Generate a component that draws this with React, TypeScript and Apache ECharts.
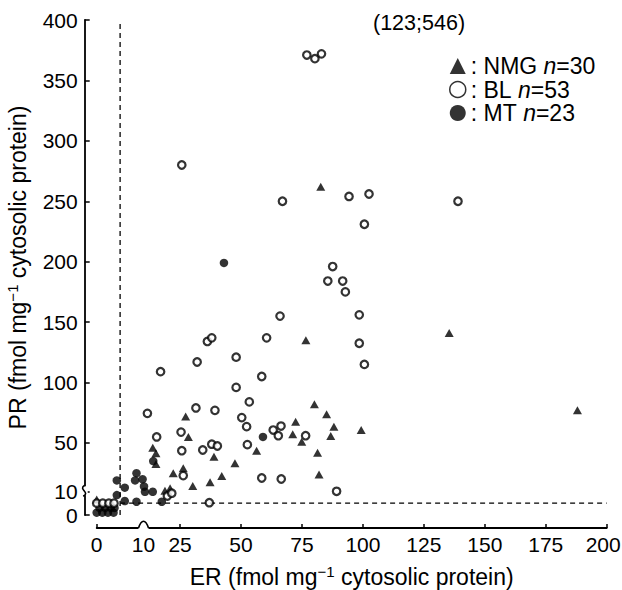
import React, { useEffect, useRef } from 'react';
import * as echarts from 'echarts';

// Broken-axis transform: 0–10 is expanded, above 10 is linear
const BREAK = 10;
const K_X = 1.92;
const K_Y = 1.96;
const tx = (v: number) => (v <= BREAK ? v * K_X : v - BREAK + BREAK * K_X);
const ty = (v: number) => (v <= BREAK ? v * K_Y : v - BREAK + BREAK * K_Y);
const itx = (t: number) => (t <= BREAK * K_X + 1e-9 ? t / K_X : t - BREAK * K_X + BREAK);
const ity = (t: number) => (t <= BREAK * K_Y + 1e-9 ? t / K_Y : t - BREAK * K_Y + BREAK);

const xTickValues = [0, 25, 50, 75, 100, 125, 150, 175, 200];
const xLabelValues = [0, 10, 25, 50, 75, 100, 125, 150, 175, 200];
const yTickValues = [0, 10, 50, 100, 150, 200, 250, 300, 350, 400];
const yLabelValues = [0, 10, 50, 100, 150, 200, 250, 300, 350, 400];

const cutoffER = 5;
const cutoffPR = 5;
const outlierLabel = '(123;546)';

// [ER, PR]
const nmgPoints = [
  [27.3, 72], [28.4, 55], [13.8, 46], [15.1, 41.5], [15.1, 32.6], [26.3, 29],
  [22.2, 25], [38.9, 38.6], [47.5, 33.2], [56.4, 43.6], [42.1, 22.7], [37.3, 17.5],
  [30.2, 14.4], [18.8, 10.5], [20.9, 12.5], [80.1, 82], [85.1, 73.7], [72.4, 67.6],
  [88.1, 63.5], [99.3, 60.7], [71.2, 57.2], [86.8, 55.8], [74.9, 51], [81.4, 42],
  [82, 24], [76.6, 135], [82.7, 262], [135.4, 141], [188, 77], [0, 6.5],
];

const blPoints = [
  [36.2, 134], [38, 137], [60.5, 137], [48, 121], [32, 117], [17, 109],
  [58.5, 105], [48, 96], [53.4, 84], [11.6, 74.5], [31.5, 79], [39.3, 77],
  [50.3, 71], [52.3, 63.5], [63.2, 60.7], [66.4, 64], [65.3, 56], [15.4, 55],
  [25.4, 59], [25.7, 43.6], [34.3, 44.2], [38, 49], [40.3, 47.5], [52.6, 48.6],
  [26.3, 23], [58.5, 21], [66.5, 20.2], [37, 5.2], [19.8, 8], [21.6, 9.2],
  [76.5, 56], [89.2, 10], [67, 250], [94.3, 254], [102.5, 256], [139, 250],
  [100.6, 231], [87.6, 196], [85.6, 184], [91.7, 184], [92.8, 175], [66, 155],
  [98.5, 156], [98.5, 132.5], [100.6, 115], [25.7, 280], [77, 371], [80.3, 368],
  [83, 372], [0, 5], [1.3, 5], [2.6, 5], [3.7, 5],
];

const mtPoints = [
  [0, 1], [1.2, 1], [2.4, 1], [3.6, 1], [0.6, 3], [1.8, 3], [3, 3], [3.8, 3],
  [8.5, 25], [8.2, 19], [9.8, 20], [10.2, 14], [10.6, 9.8], [13.8, 9.8],
  [8.5, 5.6], [6, 13], [4.3, 19], [4.3, 8.4], [6, 5.9], [17.5, 5.6],
  [59, 55], [43, 199], [14, 35],
];

const seriesNames = ['NMG', 'BL', 'MT'];

export default function App() {
  const ref = useRef<HTMLDivElement>(null);

  useEffect(() => {
    const chart = echarts.init(ref.current!, undefined, { renderer: 'svg' });
    const font = '"Liberation Sans", Arial, Helvetica, sans-serif';
    const counts: Record<string, number> = {
      NMG: nmgPoints.length,
      BL: blPoints.length,
      MT: mtPoints.length,
    };
    const toT = (p: number[]) => [tx(p[0]), ty(p[1])];
    const axisName = (prefix: string) => `${prefix} (fmol mg{s|−1} cytosolic protein)`;
    const nameStyle = {
      fontSize: 23,
      color: '#000',
      fontFamily: font,
      rich: {
        s: { fontSize: 15, color: '#000', fontFamily: font, padding: [0, 0, 11, 0] },
      },
    };
    const labelFont = 21;

    const option: any = {
      animation: false,
      backgroundColor: '#fff',
      title: {
        text: outlierLabel,
        left: 373,
        top: 12,
        padding: 0,
        textStyle: { fontSize: 21.5, fontWeight: 'normal', color: '#000', fontFamily: font },
      },
      legend: {
        orient: 'vertical',
        left: 449,
        top: 54.5,
        padding: 0,
        itemWidth: 16,
        itemHeight: 16,
        itemGap: 0.5,
        data: [
          { name: 'NMG', icon: 'triangle' },
          { name: 'BL', icon: 'circle', itemStyle: { color: '#fff', borderColor: '#000', borderWidth: 1.5 } },
          { name: 'MT', icon: 'circle' },
        ],
        formatter: (name: string) => `{t|: ${name} }{i|n}{t|=${counts[name]}}`,
        textStyle: {
          fontSize: 23,
          color: '#000',
          fontFamily: font,
          rich: {
            t: { fontSize: 23, color: '#000', fontFamily: font },
            i: { fontSize: 23, color: '#000', fontFamily: font, fontStyle: 'italic' },
          },
        },
      },
      grid: { left: 96.7, top: 20, right: 15.3, bottom: 75, containLabel: false, outerBoundsMode: 'none' },
      xAxis: {
        type: 'value',
        min: 0,
        max: tx(200),
        offset: 13,
        axisLine: { show: true, onZero: false, lineStyle: { color: '#000', width: 1.8 } },
        axisTick: {
          show: true,
          inside: true,
          length: 4,
          customValues: xTickValues.map(tx),
          lineStyle: { color: '#000', width: 1.5 },
        },
        axisLabel: {
          customValues: xLabelValues.map(tx),
          formatter: (v: number) => {
            const s = String(Math.round(itx(v)));
            return s === '200' ? `{r|${s}}` : s;
          },
          margin: 6,
          fontSize: labelFont,
          color: '#000',
          fontFamily: font,
          rich: { r: { fontSize: labelFont, color: '#000', fontFamily: font, padding: [0, 7, 0, 0] } },
        },
        splitLine: { show: false },
        name: axisName('ER'),
        nameLocation: 'middle',
        nameGap: 36,
        nameTextStyle: nameStyle,
      },
      yAxis: {
        type: 'value',
        min: 0,
        max: ty(400),
        offset: 12,
        axisLine: { show: true, onZero: false, lineStyle: { color: '#000', width: 1.8 } },
        axisTick: {
          show: true,
          inside: true,
          length: 5,
          customValues: yTickValues.map(ty),
          lineStyle: { color: '#000', width: 1.5 },
        },
        axisLabel: {
          customValues: yLabelValues.map(ty),
          formatter: (v: number) => String(Math.round(ity(v))),
          margin: 7,
          fontSize: labelFont,
          color: '#000',
          fontFamily: font,
        },
        splitLine: { show: false },
        name: axisName('PR'),
        nameLocation: 'middle',
        nameGap: 54,
        nameTextStyle: nameStyle,
      },
      series: [
        {
          type: 'line',
          silent: true,
          symbol: 'none',
          data: [toT([cutoffER, 0]), toT([cutoffER, 400])],
          lineStyle: { color: '#000', width: 1.3, type: [5, 4] },
          z: 1,
        },
        {
          type: 'line',
          silent: true,
          symbol: 'none',
          data: [toT([cutoffER, cutoffPR]), toT([200, cutoffPR])],
          lineStyle: { color: '#000', width: 1.3, type: [5, 4] },
          z: 1,
        },
        {
          name: seriesNames[0],
          type: 'scatter',
          symbol: 'triangle',
          symbolSize: [9, 8],
          itemStyle: { color: '#000' },
          data: nmgPoints.map(toT),
          z: 3,
        },
        {
          name: seriesNames[2],
          type: 'scatter',
          symbol: 'circle',
          symbolSize: 8.5,
          itemStyle: { color: '#000' },
          data: mtPoints.map(toT),
          z: 3,
        },
        {
          name: seriesNames[1],
          type: 'scatter',
          symbol: 'circle',
          symbolSize: 7.5,
          itemStyle: { color: '#fff', borderColor: '#000', borderWidth: 2.2 },
          data: blPoints.map(toT),
          z: 4,
        },
      ],
    };
    chart.setOption(option);

    // Axis-break squiggles
    const axX = (chart.convertToPixel({ xAxisIndex: 0 }, 0) as number) - 12;
    const axY = (chart.convertToPixel({ yAxisIndex: 0 }, 0) as number) + 13;
    const by = chart.convertToPixel({ yAxisIndex: 0 }, ty(BREAK)) as number;
    const bx = chart.convertToPixel({ xAxisIndex: 0 }, tx(BREAK)) as number;
    chart.setOption({
      graphic: [
        { type: 'rect', z: 100, shape: { x: axX - 3, y: by - 5, width: 6, height: 9 }, style: { fill: '#fff' } },
        {
          type: 'bezierCurve',
          z: 101,
          shape: { x1: axX, y1: by - 6, cpx1: axX - 7, cpy1: by - 2, cpx2: axX + 6, cpy2: by + 1, x2: axX - 1.5, y2: by + 5 },
          style: { stroke: '#000', lineWidth: 1.6, fill: 'none' },
        },
        { type: 'rect', z: 100, shape: { x: bx - 5, y: axY - 3, width: 10, height: 6 }, style: { fill: '#fff' } },
        {
          type: 'bezierCurve',
          z: 101,
          shape: { x1: bx - 5, y1: axY, cpx1: bx - 2, cpy1: axY - 9, cpx2: bx + 2, cpy2: axY - 9, x2: bx + 5, y2: axY },
          style: { stroke: '#000', lineWidth: 1.6, fill: 'none' },
        },
      ],
    });

    return () => chart.dispose();
  }, []);

  return (
    <div
      ref={ref}
      style={{ position: 'absolute', left: 0, top: 0, width: 622, height: 590 }}
    />
  );
}
